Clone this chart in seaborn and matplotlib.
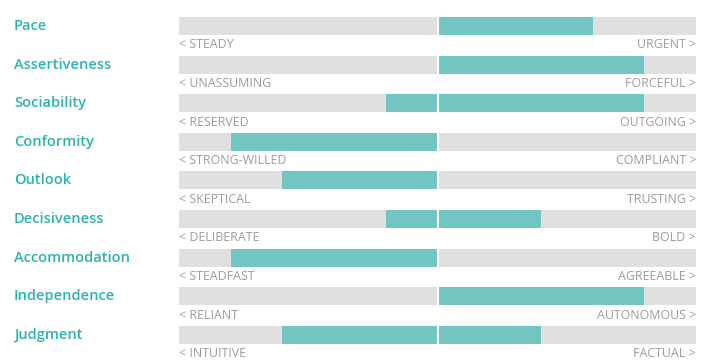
import matplotlib
matplotlib.use("Agg")
import matplotlib.pyplot as plt
import seaborn as sns
import pandas as pd

traits = ["Pace", "Assertiveness", "Sociability", "Conformity", "Outlook",
          "Decisiveness", "Accommodation", "Independence", "Judgment"]
low_labels = ["< STEADY", "< UNASSUMING", "< RESERVED", "< STRONG-WILLED", "< SKEPTICAL",
              "< DELIBERATE", "< STEADFAST", "< RELIANT", "< INTUITIVE"]
high_labels = ["URGENT >", "FORCEFUL >", "OUTGOING >", "COMPLIANT >", "TRUSTING >",
               "BOLD >", "AGREEABLE >", "AUTONOMOUS >", "FACTUAL >"]
range_low = [0, 0, -1, -4, -3, -1, -4, 0, -3]
range_high = [3, 4, 4, 0, 0, 2, 0, 4, 2]
scale_min, scale_max = -5, 5

df = pd.DataFrame({"trait": traits, "lo": range_low, "hi": range_high,
                   "bg_lo": [scale_min] * len(traits), "bg_hi": [scale_max] * len(traits)})

sns.set_theme(style="white")
plt.rcParams["font.family"] = ["Open Sans", "DejaVu Sans"]

fig = plt.figure(figsize=(7.14, 3.63), dpi=100)
ax = fig.add_axes([179 / 714, 1 - 354.1 / 363, (696 - 179) / 714, 347.4 / 363])

grey = "#e0e0e0"
teal = "#72c5c0"
bw = 0.47
for col, c in [("bg_lo", grey), ("bg_hi", grey), ("lo", teal), ("hi", teal)]:
    sns.barplot(data=df, y="trait", x=col, order=traits, orient="h", color=c,
                width=bw, ax=ax, saturation=1, linewidth=0)

ax.axvline(0, color="white", lw=1.5, zorder=5)
ax.set_xlim(scale_min, scale_max)
ax.set_ylim(len(traits) - 0.5, -0.5)
ax.axis("off")

for i, t in enumerate(traits):
    ax.text(-0.319, i, t, transform=ax.get_yaxis_transform(), ha="left", va="center",
            fontsize=10.5, fontweight="semibold", color="#2db3ae")
    ax.text(scale_min, i + 0.49, low_labels[i], ha="left", va="center",
            fontsize=8.9, color="#9c9c9c")
    ax.text(scale_max, i + 0.49, high_labels[i], ha="right", va="center",
            fontsize=8.9, color="#9c9c9c")

fig.savefig("out.png", dpi=100, facecolor="white")
